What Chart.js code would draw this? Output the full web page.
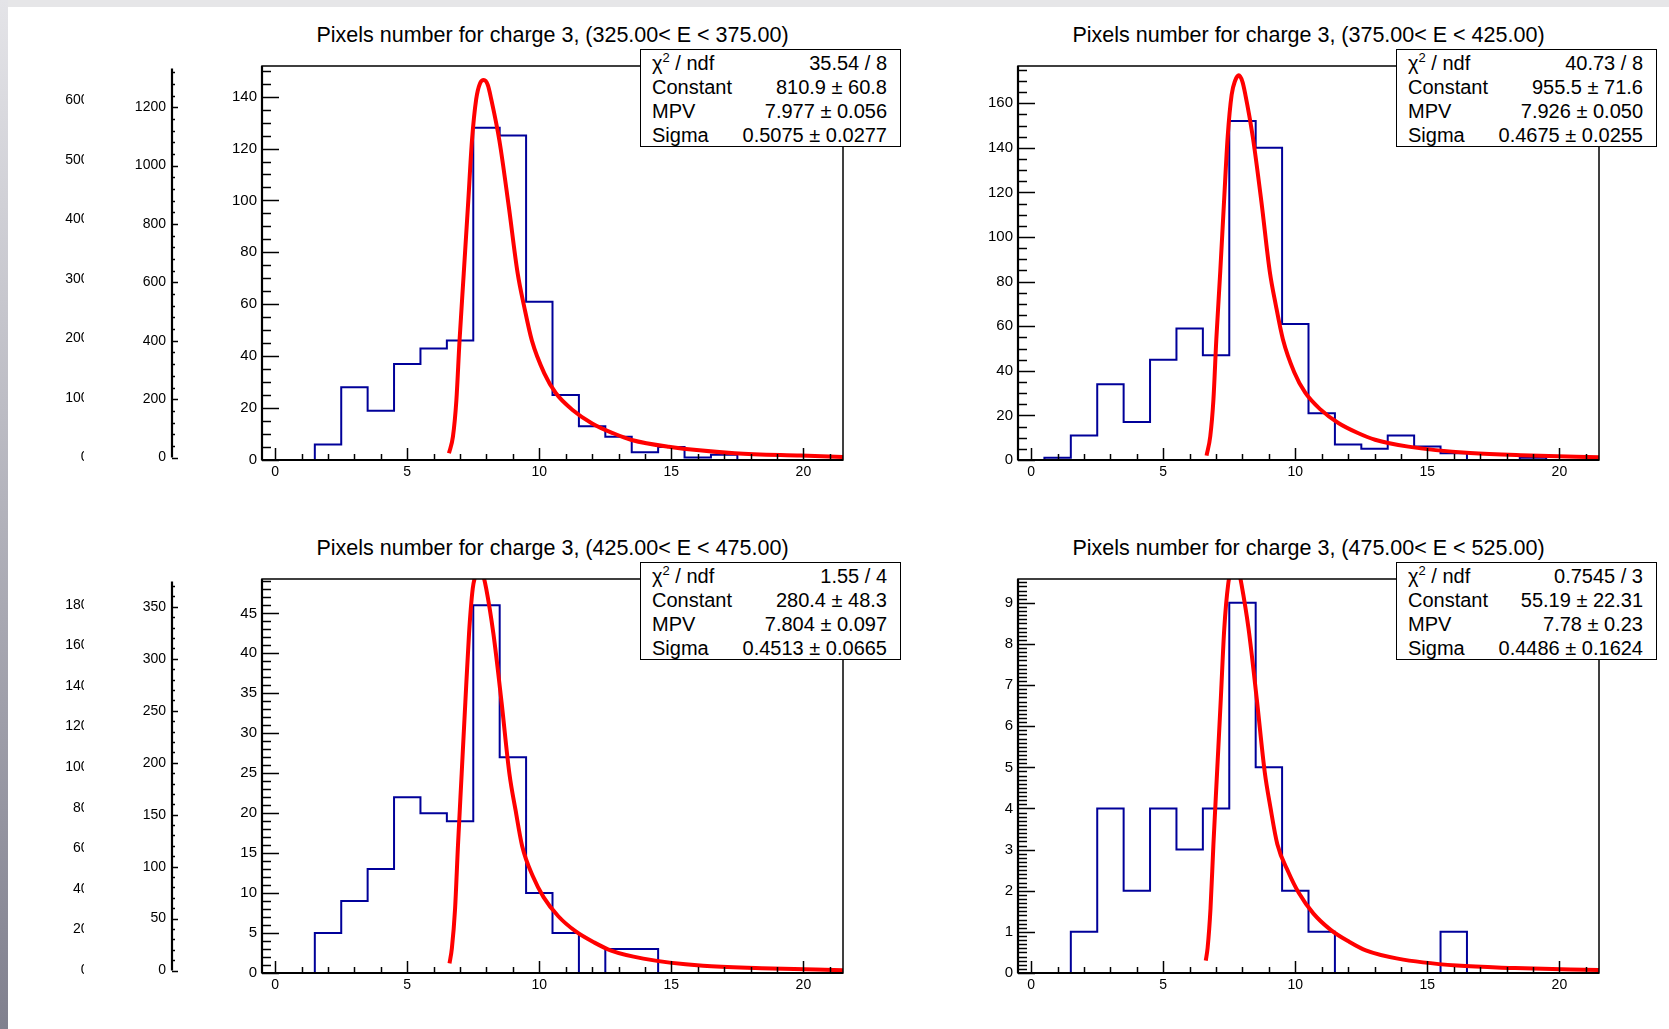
<!DOCTYPE html>
<html>
<head>
<meta charset="utf-8">
<script src="https://cdn.jsdelivr.net/npm/chart.js@4.4.0/dist/chart.umd.min.js"></script>
<style>
  body { margin: 0; width: 1669px; height: 1029px; background: #fff; position: relative; overflow: hidden;
         font-family: "Liberation Sans", Arial, sans-serif; color: #000; }
  .band-top { position: absolute; left: 0; top: 0; width: 1669px; height: 7px; background: #e6e6e8; }
  .band-left { position: absolute; left: 0; top: 0; width: 8px; height: 1029px; background: linear-gradient(#e4e4e8, #80808e); }
  .box { position: absolute; }
  .clip { position: absolute; overflow: hidden; }
  .title { position: absolute; font-size: 21.5px; white-space: nowrap; transform: translate(-50%, -50%); }
  .stats { position: absolute; border: 1.5px solid #000; background: #fff; box-sizing: border-box;
           font-size: 20px; padding: 1px 13px 0 11px; }
  .stats .row { display: flex; justify-content: space-between; height: 24.1px; line-height: 24.1px; white-space: nowrap; }
  .stats sup { font-size: 13px; line-height: 0; }
</style>
</head>
<body>
<div class="band-top"></div>
<div class="band-left"></div>
<script>
// bins of 1 unit, centred on integers, axis from -0.5 to 21.5
const binCenters = [0, 1, 2, 3, 4, 5, 6, 7, 8, 9, 10, 11, 12, 13, 14, 15, 16, 17, 18, 19, 20, 21];
const xTicks = [0, 5, 10, 15, 20];

const titles = [
  'Pixels number for charge 3, (325.00< E < 375.00)',
  'Pixels number for charge 3, (375.00< E < 425.00)',
  'Pixels number for charge 3, (425.00< E < 475.00)',
  'Pixels number for charge 3, (475.00< E < 525.00)'
];
const statNames = ['&chi;<sup>2</sup> / ndf', 'Constant', 'MPV', 'Sigma'];

// 325 < E < 375
const countsE325 = [0, 0, 6, 28, 19, 37, 43, 46, 128, 125, 61, 25, 13, 9, 3, 5, 1, 2, 0, 0, 0, 0];
const fitXE325 = [6.58, 6.73, 6.86, 6.98, 7.14, 7.30, 7.45, 7.61, 7.75, 7.90, 8.05, 8.18, 8.49, 8.84, 9.18, 9.43, 9.72, 10.19, 10.63, 11.26, 12.0, 12.8, 13.5, 14.9, 17.4, 19.9, 21.5];
const fitYE325 = [2.6, 9.0, 23, 46, 72, 98, 123, 139, 145, 146.4, 144.5, 139, 123, 98, 72, 59, 46, 33.4, 25.7, 19.3, 14.1, 10.3, 7.7, 5.1, 2.6, 1.7, 1.2];
const yTicksE325 = [0, 20, 40, 60, 80, 100, 120, 140];
const statsE325 = ['35.54 / 8', '810.9 &plusmn; 60.8', '7.977 &plusmn; 0.056', '0.5075 &plusmn; 0.0277'];

// 375 < E < 425
const countsE375 = [0, 1, 11, 34, 17, 45, 59, 47, 152, 140, 61, 21, 7, 5, 11, 6, 3, 0, 0, 1, 0, 0];
const fitXE375 = [6.64, 6.78, 6.90, 7.01, 7.16, 7.30, 7.44, 7.59, 7.72, 7.86, 8.00, 8.11, 8.39, 8.72, 9.03, 9.26, 9.53, 9.96, 10.37, 10.95, 11.63, 12.37, 13.02, 14.28, 16.62, 18.91, 21.5];
const fitYE375 = [2.0, 10.6, 27.1, 54.2, 84.8, 115.5, 145.0, 163.8, 170.1, 172.5, 169.6, 163.8, 145.0, 115.5, 84.8, 69.6, 54.2, 39.4, 30.3, 22.7, 16.6, 12.1, 9.1, 6.0, 3.1, 2.0, 1.2];
const yTicksE375 = [0, 20, 40, 60, 80, 100, 120, 140, 160];
const statsE375 = ['40.73 / 8', '955.5 &plusmn; 71.6', '7.926 &plusmn; 0.050', '0.4675 &plusmn; 0.0255'];

// 425 < E < 475
const countsE425 = [0, 0, 5, 9, 13, 22, 20, 19, 46, 27, 10, 5, 0, 3, 3, 0, 0, 0, 0, 0, 0, 0];
const fitXE425 = [6.60, 6.69, 6.81, 6.92, 7.06, 7.20, 7.34, 7.48, 7.60, 7.74, 7.87, 7.99, 8.26, 8.57, 8.87, 9.10, 9.35, 9.77, 10.16, 10.72, 11.38, 12.09, 12.72, 13.94, 16.20, 18.41, 21.5];
const fitYE425 = [1.2, 3.1, 8.0, 15.9, 24.9, 33.9, 42.5, 48.1, 49.9, 50.6, 49.8, 48.1, 42.5, 33.9, 24.9, 20.4, 15.9, 12.0, 9.5, 7.1, 5.2, 3.8, 2.8, 1.8, 0.9, 0.6, 0.35];
const yTicksE425 = [0, 5, 10, 15, 20, 25, 30, 35, 40, 45];
const statsE425 = ['1.55 / 4', '280.4 &plusmn; 48.3', '7.804 &plusmn; 0.097', '0.4513 &plusmn; 0.0665'];

// 475 < E < 525
const countsE475 = [0, 0, 1, 4, 2, 4, 3, 4, 9, 5, 2, 1, 0, 0, 0, 0, 1, 0, 0, 0, 0, 0];
const fitXE475 = [6.61, 6.68, 6.79, 6.90, 7.04, 7.18, 7.31, 7.46, 7.58, 7.71, 7.85, 7.96, 8.23, 8.54, 8.84, 9.06, 9.32, 9.74, 10.13, 10.68, 11.34, 12.04, 12.67, 13.88, 16.12, 18.32, 21.5];
const fitYE475 = [0.30, 0.61, 1.57, 3.13, 4.90, 6.67, 8.37, 9.46, 9.82, 9.96, 9.80, 9.46, 8.37, 6.67, 4.90, 4.02, 3.13, 2.45, 1.95, 1.45, 1.05, 0.76, 0.55, 0.35, 0.18, 0.12, 0.07];
const yTicksE475 = [0, 1, 2, 3, 4, 5, 6, 7, 8, 9];
const statsE475 = ['0.7545 / 3', '55.19 &plusmn; 22.31', '7.78 &plusmn; 0.23', '0.4486 &plusmn; 0.1624'];

// leftover axes from the other pads, at the left edge
const ghostTopInner = [0, 200, 400, 600, 800, 1000, 1200];
const ghostTopOuter = [0, 100, 200, 300, 400, 500, 600];
const ghostBotInner = [0, 50, 100, 150, 200, 250, 300, 350];
const ghostBotOuter = [0, 20, 40, 60, 80, 100, 120, 140, 160, 180];

const FONT = '"Liberation Sans", Arial, sans-serif';
const plain = v => String(v);

// ROOT style: frame, axis lines and inward tick marks
const rootAxes = {
  id: 'rootAxes',
  afterDatasetsDraw(chart, args, o) {
    const { ctx, chartArea: a, scales } = chart;
    ctx.save();
    ctx.strokeStyle = '#000';
    if (o.frame) {
      ctx.lineWidth = 1.5;
      ctx.strokeRect(a.left, a.top, a.right - a.left, a.bottom - a.top);
      const xs = scales.x;
      for (let k = Math.ceil(xs.min / o.xMinor); k * o.xMinor <= xs.max; k++) {
        const px = Math.round(xs.getPixelForValue(k * o.xMinor)) + 0.5;
        const len = k % o.xPer === 0 ? 12 : 6;
        ctx.beginPath();
        ctx.moveTo(px, a.bottom);
        ctx.lineTo(px, a.bottom - len);
        ctx.stroke();
      }
      ctx.lineWidth = 2.2;
      ctx.beginPath();
      ctx.moveTo(a.right, a.bottom);
      ctx.lineTo(a.left, a.bottom);
      ctx.stroke();
    }
    const ys = scales.y;
    ctx.lineWidth = 2.2;
    ctx.beginPath();
    ctx.moveTo(a.left, a.top);
    ctx.lineTo(a.left, a.bottom);
    ctx.stroke();
    ctx.lineWidth = 1.5;
    for (let k = 0; k * o.yMinor <= ys.max + 1e-9; k++) {
      const py = Math.round(ys.getPixelForValue(k * o.yMinor)) + 0.5;
      const len = k % o.yPer === 0 ? o.majorLen : o.minorLen;
      ctx.beginPath();
      ctx.moveTo(a.left, py);
      ctx.lineTo(a.left + len, py);
      ctx.stroke();
    }
    ctx.restore();
  }
};

const ML = 62, MT = 14, MR = 10, MB = 30;

function addBox(cls, left, top, width, height, parent) {
  const d = document.createElement('div');
  d.className = cls;
  d.style.left = left + 'px';
  d.style.top = top + 'px';
  if (width) d.style.width = width + 'px';
  if (height) d.style.height = height + 'px';
  (parent || document.body).appendChild(d);
  return d;
}

function drawPanel(p) {
  const f = p.frame;
  const w = f.R - f.L + ML + MR;
  const h = f.B - f.T + MT + MB;
  const holder = addBox('box', f.L - ML, f.T - MT, w, h);
  const canvas = document.createElement('canvas');
  canvas.width = w;
  canvas.height = h;
  holder.appendChild(canvas);

  const hist = binCenters.map((c, i) => ({ x: c - 0.5, y: p.counts[i] }));
  hist.push({ x: binCenters[binCenters.length - 1] + 0.5, y: p.counts[p.counts.length - 1] });
  const fit = p.fitX.map((x, i) => ({ x, y: p.fitY[i] }));

  new Chart(canvas, {
    type: 'line',
    data: {
      datasets: [
        { data: fit, borderColor: '#ff0000', borderWidth: 4, pointRadius: 0, fill: false,
          cubicInterpolationMode: 'monotone', clip: 0, order: 1 },
        { data: hist, borderColor: '#000099', borderWidth: 2, pointRadius: 0, fill: false,
          stepped: true, clip: 0, order: 2 }
      ]
    },
    options: {
      responsive: false, animation: false, events: [], devicePixelRatio: 1,
      layout: { padding: { top: MT, right: MR, left: 0, bottom: 0 } },
      plugins: {
        legend: { display: false }, tooltip: { enabled: false },
        rootAxes: { frame: true, xMinor: 1, xPer: 5, yMinor: p.yMinor, yPer: p.yPer, majorLen: 17, minorLen: 9 }
      },
      scales: {
        x: {
          type: 'linear', min: -0.5, max: 21.5,
          grid: { display: false, drawTicks: false }, border: { display: false },
          afterBuildTicks: s => { s.ticks = xTicks.map(v => ({ value: v })); },
          afterFit: s => { s.height = MB; },
          ticks: { autoSkip: false, maxRotation: 0, padding: 4, color: '#000', callback: plain,
                   font: { family: FONT, size: 14 } }
        },
        y: {
          type: 'linear', min: 0, max: p.yMax,
          grid: { display: false, drawTicks: false }, border: { display: false },
          afterBuildTicks: s => { s.ticks = p.yTicks.map(v => ({ value: v })); },
          afterFit: s => { s.width = ML; },
          ticks: { autoSkip: false, padding: 5, color: '#000', callback: plain,
                   font: { family: FONT, size: 15 } }
        }
      }
    },
    plugins: [rootAxes]
  });

  const t = addBox('title', (f.L + f.R) / 2, p.titleY);
  t.textContent = p.title;

  const s = addBox('stats', p.stat.x, p.stat.y, 261, 98);
  statNames.forEach((n, i) => {
    const r = document.createElement('div');
    r.className = 'row';
    r.innerHTML = '<span>' + n + '</span><span>' + p.stats[i] + '</span>';
    s.appendChild(r);
  });
}

function drawGhost(g) {
  const h = g.B - g.T + 24;
  const w = g.axisX + 24;
  const parent = g.clipW ? addBox('clip', 0, g.T - 12, g.clipW, h) : addBox('box', 0, g.T - 12, w, h);
  const canvas = document.createElement('canvas');
  canvas.width = w;
  canvas.height = h;
  parent.appendChild(canvas);
  new Chart(canvas, {
    type: 'line',
    data: { datasets: [] },
    options: {
      responsive: false, animation: false, events: [], devicePixelRatio: 1,
      layout: { padding: { top: 12, bottom: 12, left: 0, right: 0 } },
      plugins: {
        legend: { display: false }, tooltip: { enabled: false },
        rootAxes: { frame: false, yMinor: g.minor, yPer: g.per, majorLen: 6, minorLen: 3 }
      },
      scales: {
        x: { type: 'linear', min: 0, max: 1, display: false },
        y: {
          type: 'linear', min: 0, max: g.yMax,
          grid: { display: false, drawTicks: false }, border: { display: false },
          afterBuildTicks: s => { s.ticks = g.ticks.map(v => ({ value: v })); },
          afterFit: s => { s.width = g.axisX; },
          ticks: { autoSkip: false, padding: g.pad, color: '#000', callback: plain,
                   font: { family: FONT, size: 14 } }
        }
      }
    },
    plugins: [rootAxes]
  });
}

drawGhost({ T: 66, B: 460, axisX: 95, pad: 6.5, clipW: 83.5, yMax: 653, ticks: ghostTopOuter, minor: 20, per: 5 });
drawGhost({ T: 66, B: 460, axisX: 172, pad: 6, yMax: 1333, ticks: ghostTopInner, minor: 40, per: 5 });
drawGhost({ T: 579, B: 973, axisX: 95, pad: 6.5, clipW: 83.5, yMax: 191.3, ticks: ghostBotOuter, minor: 4, per: 5 });
drawGhost({ T: 579, B: 973, axisX: 172, pad: 6, yMax: 374.5, ticks: ghostBotInner, minor: 10, per: 5 });

drawPanel({ frame: { L: 262, R: 843, T: 66, B: 460 }, titleY: 35, title: titles[0],
  counts: countsE325, fitX: fitXE325, fitY: fitYE325, yMax: 151.8, yTicks: yTicksE325, yMinor: 5, yPer: 4,
  stat: { x: 640, y: 49 }, stats: statsE325 });
drawPanel({ frame: { L: 1018, R: 1599, T: 66, B: 460 }, titleY: 35, title: titles[1],
  counts: countsE375, fitX: fitXE375, fitY: fitYE375, yMax: 176.7, yTicks: yTicksE375, yMinor: 5, yPer: 4,
  stat: { x: 1396, y: 49 }, stats: statsE375 });
drawPanel({ frame: { L: 262, R: 843, T: 579, B: 973 }, titleY: 548, title: titles[2],
  counts: countsE425, fitX: fitXE425, fitY: fitYE425, yMax: 49.3, yTicks: yTicksE425, yMinor: 1, yPer: 5,
  stat: { x: 640, y: 562 }, stats: statsE425 });
drawPanel({ frame: { L: 1018, R: 1599, T: 579, B: 973 }, titleY: 548, title: titles[3],
  counts: countsE475, fitX: fitXE475, fitY: fitYE475, yMax: 9.58, yTicks: yTicksE475, yMinor: 0.1, yPer: 10,
  stat: { x: 1396, y: 562 }, stats: statsE475 });
</script>
</body>
</html>
